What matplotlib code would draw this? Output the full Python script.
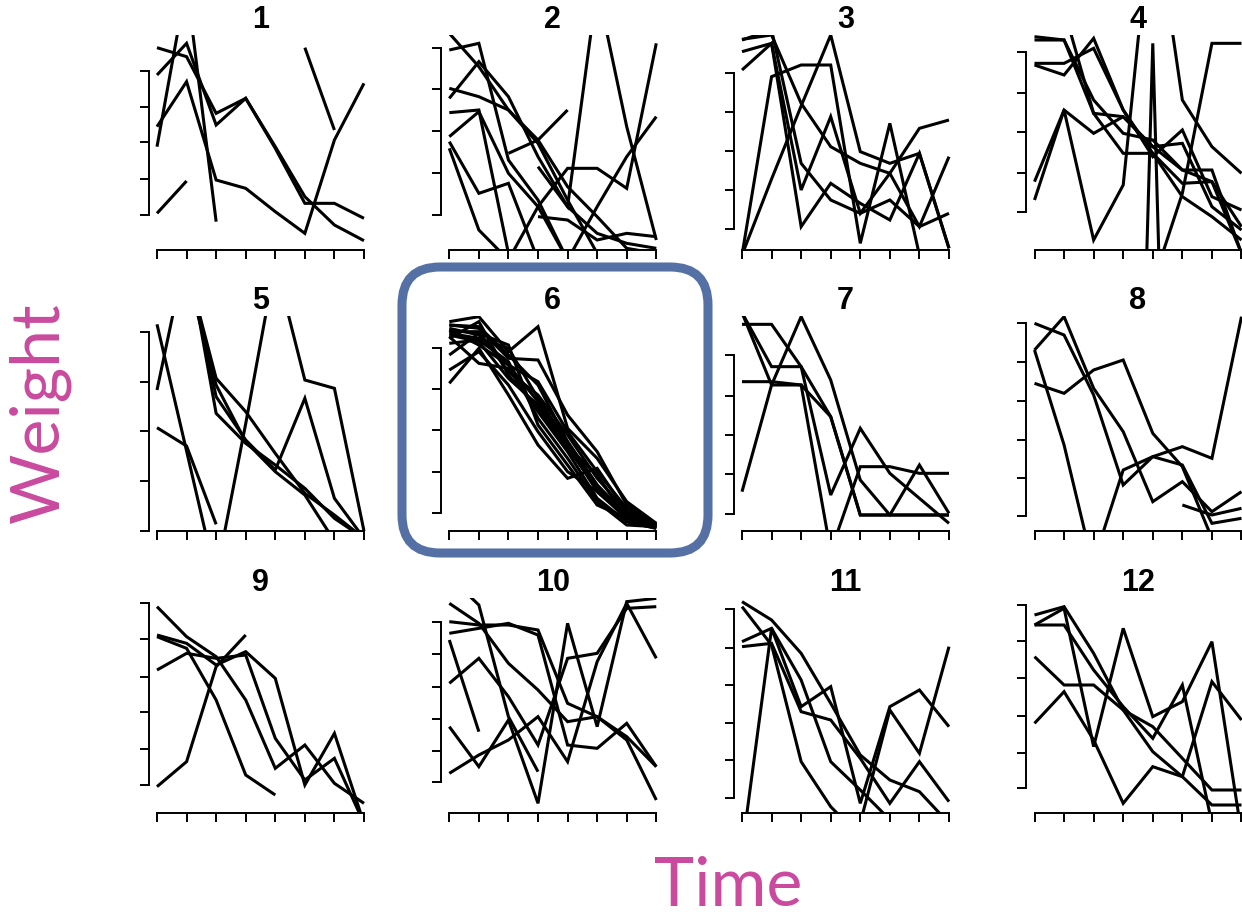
import numpy as np
import matplotlib
matplotlib.use("Agg")
import matplotlib.pyplot as plt
from matplotlib.patches import FancyBboxPatch

N = np.nan
time_points = [1, 2, 3, 4, 5, 6, 7, 8]
panel_titles = [str(i) for i in range(1, 13)]

# ---- data: weight trajectories per cluster (arbitrary units) ----
weights_1 = [
    [525, 620, 375, 455, 305, 140, 140, 95],
    [607, 580, 410, 455, 310, 160, 75, 28],
    [370, 505, 210, 185, 115, 50, 330, 500],
    [310, 800, 85, N, N, N, N, N],
    [110, 207, N, N, N, N, N, N],
    [N, N, N, N, N, 607, 360, N],
]
weights_2 = [
    [600, 620, 270, 150, -30, N, N, N],
    [650, 550, 420, 320, 150, -10, N, N],
    [455, 565, 460, 280, 130, 50, 20, 5],
    [485, 460, 420, 330, 190, 100, 5, -10],
    [412, 420, -10, N, N, N, N, N],
    [340, 415, 230, 130, -30, N, N, N],
    [325, 170, 200, -30, N, N, N, N],
    [305, 60, -30, N, N, N, N, N],
    [N, N, 290, 330, 420, N, N, N],
    [N, N, -30, 130, 245, 245, 185, 620],
    [N, N, N, 250, 130, 790, 370, 30],
    [N, N, N, 100, 90, 30, 50, 40],
    [N, N, N, N, -30, 130, 280, 400],
]
weights_3 = [
    [-15, 520, 555, 555, 20, 380, -15, N],
    [-15, 213, 432, 645, 295, 260, 290, 5],
    [632, 645, 440, 310, 260, 230, 365, 390],
    [595, 620, 70, 200, 140, 90, 290, 5],
    [540, 620, 180, 400, 110, 230, 70, 280],
    [630, 660, 260, 150, 110, 150, 70, 110],
]
weights_4 = [
    [640, 630, 410, 400, 310, 240, 205, -10],
    [630, 630, 450, 350, 330, 240, 240, -10],
    [560, 560, 605, 420, 290, 160, 100, 30],
    [555, 525, 635, 420, 280, 360, 160, 120],
    [205, 420, 350, 400, 310, 320, 130, 60],
    [150, 420, 30, 195, 1060, 450, 310, 230],
    [N, 720, 410, 290, 290, 200, 205, 70],
    [N, N, N, -2480, 620, -2480, N, N],
    [N, N, N, N, -100, 170, 620, 620],
]
weights_5 = [
    [620, 240, -142, N, N, N, N, N],
    [423, 844, 353, 263, 198, 128, 38, -22],
    [N, 798, 458, 358, 233, 113, 48, -22],
    [N, 818, 403, 273, 183, 398, 98, -22],
    [N, 778, 438, 268, 178, 108, -30, N],
    [310, 255, 20, N, N, N, N, N],
    [N, N, -134, 322, 804, 453, 428, 0],
]
weights_6 = [
    [628, 643, 538, 613, 308, 218, 88, 23],
    [618, 608, 518, 513, 348, 238, 78, 20],
    [608, 588, 498, 448, 298, 178, 68, 18],
    [598, 598, 478, 408, 288, 158, 58, 16],
    [593, 578, 548, 398, 268, 138, 48, 13],
    [588, 568, 458, 378, 258, 118, 38, 10],
    [583, 503, 488, 358, 238, 98, 28, 8],
    [563, 573, 508, 338, 218, 88, 18, 13],
    [528, 593, 558, 318, 198, 78, 38, 18],
    [483, 538, 438, 298, 178, 118, 48, 20],
    [443, 548, 408, 258, 158, 188, 58, 16],
    [618, 613, 528, 438, 268, 138, 28, 8],
    [603, 558, 498, 388, 253, 168, 38, 12],
    [578, 628, 468, 368, 248, 128, 48, 22],
]
weights_7 = [
    [655, 493, 493, 343, 48, 48, 48, 48],
    [655, 438, 438, -62, 193, 193, 173, 173],
    [620, 620, 493, 108, 308, 173, 98, 23],
    [448, 448, 438, 343, 48, 48, 198, 53],
    [118, 438, 643, 453, 153, 48, 48, 48],
]
weights_8 = [
    [623, 588, 408, 138, 223, 198, 23, 38],
    [543, 643, 428, 298, 88, 148, 58, 118],
    [543, 258, -112, N, N, N, N, N],
    [443, 413, 483, 513, 293, 193, -22, N],
    [N, N, -92, 183, 223, 253, 218, 643],
    [N, N, N, N, N, 78, 48, 68],
]
weights_9 = [
    [619, 529, 469, 339, 134, 204, 89, 29],
    [534, 509, 444, 484, 404, 84, 239, -31],
    [529, 494, 339, 114, 54, N, N, N],
    [429, 479, 464, 474, 224, 99, 164, -31],
    [79, 154, 439, 534, N, N, N, N],
]
weights_10 = [
    [629, 569, 449, 369, 274, 289, 219, 39],
    [709, 624, 289, 124, N, N, N, N],
    [574, 564, 564, 549, 329, 289, 229, 139],
    [539, 554, 569, 534, 204, 194, 269, 139],
    [519, 244, N, N, N, N, N, N],
    [389, 464, 349, 204, 464, 479, 614, 619],
    [259, 139, 279, 29, 569, 259, 634, 644],
    [119, 174, 219, 289, 154, 454, 629, 464],
]
weights_11 = [
    [634, 579, 479, 329, 174, 99, 64, -31],
    [619, 504, 154, 19, -71, N, N, N],
    [514, 554, 399, 154, 69, -20, N, N],
    [499, 509, 304, 279, 164, 29, 154, 34],
    [-111, 554, 319, 379, 29, 319, 369, 259],
    [N, N, N, N, -30, 309, 179, 499],
]
weights_12 = [
    [594, 619, 479, 309, 259, 164, 69, 69],
    [564, 614, 199, 554, 289, 334, 514, -61],
    [564, 564, 429, 319, 224, 384, -31, N],
    [469, 384, 384, 309, 184, 109, 24, 24],
    [269, 364, 219, 29, 139, 109, 394, 279],
]
all_weights = [weights_1, weights_2, weights_3, weights_4, weights_5, weights_6,
               weights_7, weights_8, weights_9, weights_10, weights_11, weights_12]

y_ticks = [
    [105, 213, 323, 430, 537],
    [105, 232, 357, 482, 605],
    [63, 180, 298, 415, 532],
    [113, 232, 355, 472, 595],
    [0, 150, 300, 448, 596],
    [53, 178, 303, 426, 550],
    [50, 171, 288, 406, 528],
    [45, 160, 273, 390, 506, 623],
    [84, 192, 302, 409, 521, 629],
    [92, 186, 282, 379, 477, 574],
    [44, 159, 271, 384, 496, 611],
    [74, 181, 292, 404, 517, 624],
]

# ---- layout ----
W, H = 1242, 922
fig = plt.figure(figsize=(W / 100, H / 100), dpi=100)
unit = 29.57
col_x1 = [157, 449.3, 742, 1034.5]
row_bottom = [250, 531, 813]
panel_h = 215

for i, data in enumerate(all_weights):
    r, c = divmod(i, 4)
    left = col_x1[c] - 0.28 * unit
    width = 7.56 * unit
    ax = fig.add_axes([left / W, 1 - row_bottom[r] / H, width / W, panel_h / H])
    for series in data:
        ax.plot(time_points, series, color="black", lw=2.2, solid_joinstyle="miter",
                solid_capstyle="butt")
    ax.set_xlim(0.72, 8.28)
    ax.set_ylim(0, 645)
    ax.set_xticks(time_points)
    ax.set_xticklabels([])
    ax.set_yticks(y_ticks[i])
    ax.set_yticklabels([])
    ax.tick_params(length=6.5, width=1.4, direction="out", color="black")
    for s in ("top", "right"):
        ax.spines[s].set_visible(False)
    ax.spines["left"].set_bounds(min(y_ticks[i]), max(y_ticks[i]))
    ax.spines["bottom"].set_bounds(1, 8)
    ax.spines["left"].set_linewidth(1.4)
    ax.spines["bottom"].set_linewidth(1.4)
    ax.patch.set_alpha(0)
    ax.set_title(panel_titles[i], fontsize=22, fontweight="bold",
                 family=["Liberation Sans", "DejaVu Sans"], pad=1)

# overlay for highlight box
ov = fig.add_axes([0, 0, 1, 1], zorder=10)
ov.set_xlim(0, W)
ov.set_ylim(H, 0)
ov.axis("off")
ov.patch.set_alpha(0)
box = FancyBboxPatch((402, 267), 306, 286, boxstyle="round,pad=0,rounding_size=38",
                     fill=False, edgecolor="#5470A4", linewidth=6.5)
ov.add_patch(box)

label_color = "#C94A9E"
fig.text(40 / W, 1 - 413 / H, "Weight", rotation=90, ha="center", va="center",
         color=label_color, fontsize=49, family=["Lato", "DejaVu Sans"], fontweight="normal")
fig.text(728 / W, 1 - 887 / H, "Time", ha="center", va="center",
         color=label_color, fontsize=49, family=["Lato", "DejaVu Sans"], fontweight="normal")

fig.savefig("out.png", dpi=100)
